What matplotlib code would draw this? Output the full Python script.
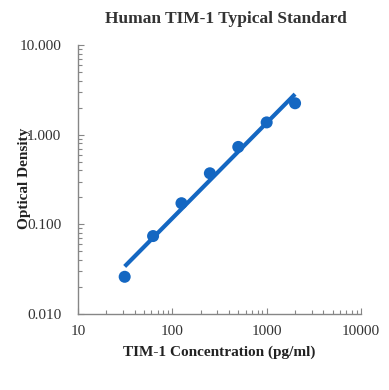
import numpy as np
import matplotlib
matplotlib.use("Agg")
import matplotlib.pyplot as plt
from matplotlib.ticker import LogLocator, FixedLocator, NullFormatter

conc = [31.25, 62.5, 125, 250, 500, 1000, 2000]
od = [0.026, 0.074, 0.172, 0.371, 0.73, 1.37, 2.24]
xticks = [10, 100, 1000, 10000]
xticklabels = ["10", "100", "1000", "10000"]
yticks = [0.01, 0.1, 1, 10]
yticklabels = ["0.010", "0.100", "1.000", "10.000"]

plt.rcParams['font.family'] = ['Liberation Serif', 'DejaVu Serif']

fig = plt.figure(figsize=(3.89, 3.90), dpi=100)
W, H = 389, 390
ax = fig.add_axes([78 / W, 1 - 314 / H, (361 - 78) / W, (314 - 45) / H])

color = '#1467C2'
# power trendline fitted in log space
lx = np.log10(conc)
ly = np.log10(od)
b, a = np.polyfit(lx, ly, 1)
xf = np.array([conc[0], conc[-1]])
yf = 10 ** (a + b * np.log10(xf))
ax.plot(xf, yf, color=color, lw=3.0, solid_capstyle='butt', zorder=2)
ax.scatter(conc, od, s=75, color=color, zorder=3, edgecolors='none')

ax.set_xscale('log')
ax.set_yscale('log')
ax.set_xlim(10, 10000)
ax.set_ylim(0.01, 10)

ax.xaxis.set_major_locator(FixedLocator(xticks))
ax.set_xticklabels(xticklabels)
ax.yaxis.set_major_locator(FixedLocator(yticks))
ax.set_yticklabels(yticklabels)
ax.xaxis.set_minor_locator(LogLocator(base=10, subs=np.arange(2, 10)))
ax.yaxis.set_minor_locator(LogLocator(base=10, subs=np.arange(2, 10)))
ax.xaxis.set_minor_formatter(NullFormatter())
ax.yaxis.set_minor_formatter(NullFormatter())

spine_c = '#868686'
for s in ['top', 'right']:
    ax.spines[s].set_visible(False)
for s in ['left', 'bottom']:
    ax.spines[s].set_color(spine_c)
    ax.spines[s].set_linewidth(1.0)

ax.tick_params(which='both', direction='in', color=spine_c, width=0.8, labelsize=11, labelcolor='#333333')
ax.tick_params(which='major', length=4)
ax.tick_params(which='minor', length=3)
ax.tick_params(axis='x', which='major', pad=8)
ax.tick_params(axis='y', which='major', pad=12)

fig.text(226 / W, 1 - 19 / H, "Human TIM-1 Typical Standard", ha='center', va='center',
         fontsize=12.5, fontweight='bold', color='#333333')
fig.text(219 / W, 1 - 352 / H, "TIM-1 Concentration (pg/ml)", ha='center', va='center',
         fontsize=11, fontweight='bold', color='#222222')
fig.text(25 / W, 1 - 178 / H, "Optical Density", ha='center', va='center', rotation=90,
         fontsize=11, fontweight='bold', color='#222222')

fig.savefig('out.png', dpi=100)
